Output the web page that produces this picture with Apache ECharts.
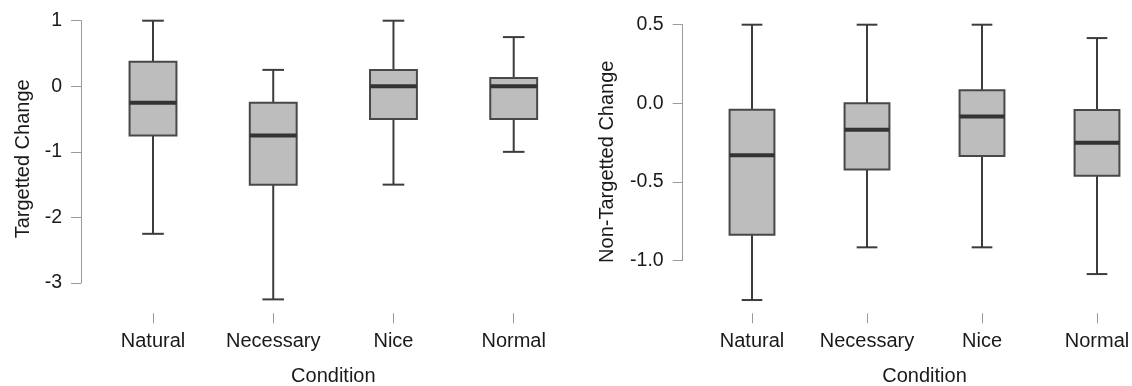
<!DOCTYPE html>
<html>
<head>
<meta charset="utf-8">
<script src="https://cdn.jsdelivr.net/npm/echarts@6/dist/echarts.min.js"></script>
<style>
html,body{margin:0;padding:0;background:#fff;}
#chart{width:1132px;height:386px;}
</style>
</head>
<body>
<div id="chart"></div>
<script>
// ---- data ----
const categories = ['Natural', 'Necessary', 'Nice', 'Normal'];

// Targetted Change (left panel)
const tMin    = [-2.25, -3.25, -1.5, -1.0];
const tQ1     = [-0.75, -1.5, -0.5, -0.5];
const tMedian = [-0.25, -0.75, 0.0, 0.0];
const tQ3     = [0.375, -0.25, 0.25, 0.125];
const tMax    = [1.0, 0.25, 1.0, 0.75];
const tTicks  = [-3, -2, -1, 0, 1];

// Non-Targetted Change (right panel)
const nMin    = [-1.25, -0.915, -0.915, -1.085];
const nQ1     = [-0.835, -0.42, -0.335, -0.46];
const nMedian = [-0.33, -0.167, -0.083, -0.25];
const nQ3     = [-0.04, 0.0, 0.083, -0.042];
const nMax    = [0.5, 0.5, 0.5, 0.415];
const nTicks  = [-1.0, -0.5, 0.0, 0.5];

const xTitle = 'Condition';
const yTitleLeft = 'Targetted Change';
const yTitleRight = 'Non-Targetted Change';

// ---- build ----
const FONT = "'Liberation Sans', Arial, sans-serif";
const TEXT = '#1a1a1a';
const AXIS = '#9a9a9a';
const BIG = 20;

function rows(mn, q1, md, q3, mx) {
  return categories.map((c, i) => [i, mn[i], q1[i], md[i], q3[i], mx[i]]);
}

function renderBox(params, api) {
  const i = api.value(0);
  const mn = api.value(1), q1 = api.value(2), md = api.value(3), q3 = api.value(4), mx = api.value(5);
  const band = api.size([1, 0])[0];
  const boxW = band * 0.39;
  const capW = band * 0.18;
  const pMin = api.coord([i, mn]);
  const pQ1 = api.coord([i, q1]);
  const pMd = api.coord([i, md]);
  const pQ3 = api.coord([i, q3]);
  const pMax = api.coord([i, mx]);
  const x = pMin[0];
  const lineStyle = { stroke: '#3c3c3c', lineWidth: 2, fill: null };
  return {
    type: 'group',
    children: [
      { type: 'line', shape: { x1: x, y1: pQ3[1], x2: x, y2: pMax[1] }, style: lineStyle },
      { type: 'line', shape: { x1: x, y1: pQ1[1], x2: x, y2: pMin[1] }, style: lineStyle },
      { type: 'line', shape: { x1: x - capW / 2, y1: pMax[1], x2: x + capW / 2, y2: pMax[1] }, style: lineStyle },
      { type: 'line', shape: { x1: x - capW / 2, y1: pMin[1], x2: x + capW / 2, y2: pMin[1] }, style: lineStyle },
      { type: 'rect', shape: { x: x - boxW / 2, y: pQ3[1], width: boxW, height: pQ1[1] - pQ3[1] },
        style: { fill: '#bdbdbd', stroke: '#484848', lineWidth: 2 } },
      { type: 'line', shape: { x1: x - boxW / 2, y1: pMd[1], x2: x + boxW / 2, y2: pMd[1] },
        style: { stroke: '#333333', lineWidth: 4 } }
    ]
  };
}

function xAxisCfg(gridIndex, offset) {
  return {
    type: 'category', gridIndex: gridIndex, data: categories, boundaryGap: false,
    offset: offset,
    axisLine: { show: true, onZero: false, lineStyle: { color: 'rgba(255,255,255,0)', width: 1 } },
    axisTick: { show: true, interval: 0, length: 10, lineStyle: { color: AXIS, width: 1 } },
    axisLabel: { margin: 18, color: TEXT, fontSize: BIG, fontFamily: FONT, interval: 0 },
    name: xTitle, nameLocation: 'middle', nameGap: 53,
    nameTextStyle: { color: TEXT, fontSize: BIG, fontFamily: FONT },
    splitLine: { show: false }
  };
}

function yAxisCfg(gridIndex, ticks, interval, offset, name, nameGap, shiftPad, fmt) {
  return {
    type: 'value', gridIndex: gridIndex,
    min: ticks[0], max: ticks[ticks.length - 1], interval: interval,
    offset: offset,
    axisLine: { show: true, onZero: false, lineStyle: { color: AXIS, width: 1 } },
    axisTick: { show: true, length: 10, lineStyle: { color: AXIS, width: 1 } },
    axisLabel: { margin: 19, color: TEXT, fontSize: 19.5, fontFamily: FONT, formatter: fmt },
    splitLine: { show: false },
    name: name, nameLocation: 'middle', nameGap: nameGap,
    nameTextStyle: { color: TEXT, fontSize: BIG, fontFamily: FONT, padding: [0, shiftPad, 0, 0] }
  };
}

const chart = echarts.init(document.getElementById('chart'), null, { renderer: 'canvas' });
chart.setOption({
  animation: false,
  backgroundColor: '#ffffff',
  grid: [
    { left: 153, right: 618.3, top: 20.7, bottom: 103, containLabel: false, outerBoundsMode: 'none' },
    { left: 752, right: 35, top: 24.7, bottom: 125.3, containLabel: false, outerBoundsMode: 'none' }
  ],
  xAxis: [xAxisCfg(0, 30.3), xAxisCfg(1, 52.6)],
  yAxis: [
    yAxisCfg(0, tTicks, 1, 72, yTitleLeft, 48, 14, v => String(v)),
    yAxisCfg(1, nTicks, 0.5, 69.3, yTitleRight, 65, 38, v => v.toFixed(1))
  ],
  series: [
    { type: 'custom', xAxisIndex: 0, yAxisIndex: 0, clip: false, renderItem: renderBox,
      encode: { x: 0, y: [1, 2, 3, 4, 5] }, data: rows(tMin, tQ1, tMedian, tQ3, tMax) },
    { type: 'custom', xAxisIndex: 1, yAxisIndex: 1, clip: false, renderItem: renderBox,
      encode: { x: 0, y: [1, 2, 3, 4, 5] }, data: rows(nMin, nQ1, nMedian, nQ3, nMax) }
  ]
});
</script>
</body>
</html>
